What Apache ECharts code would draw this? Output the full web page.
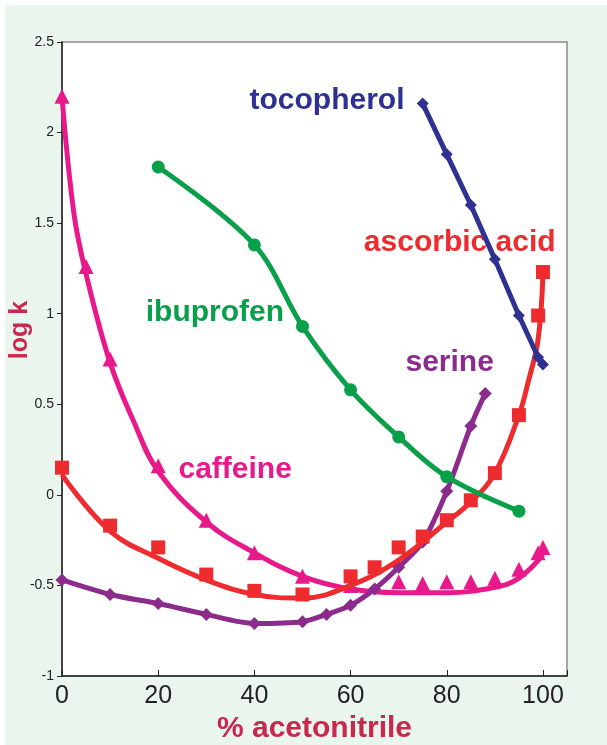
<!DOCTYPE html>
<html>
<head>
<meta charset="utf-8">
<script src="https://cdn.jsdelivr.net/npm/echarts@6/dist/echarts.min.js"></script>
<style>
  html, body { margin: 0; padding: 0; background: #ffffff; }
  #wrap { position: relative; width: 607px; height: 745px; background: #ffffff; overflow: hidden; }
  #chart { position: absolute; left: 5px; top: 5px; width: 602px; height: 740px; background: #eaf5ed; }
</style>
</head>
<body>
<div id="wrap"><div id="chart"></div></div>
<script>
// measured points [% acetonitrile, log k]
var caffeinePts = [[0, 2.2], [5, 1.26], [10, 0.75], [20, 0.16], [30, -0.14], [40, -0.32], [50, -0.45], [60, -0.5],
  [70, -0.48], [75, -0.49], [80, -0.48], [85, -0.48], [90, -0.46], [95, -0.41], [99, -0.32], [100, -0.29]];
// fitted curve as drawn
var caffeineFit = [[0, 2.2], [2.5, 1.55], [5, 1.22], [10, 0.73], [15, 0.4], [20, 0.13], [30, -0.15], [40, -0.32],
  [50, -0.45], [60, -0.52], [70, -0.54], [80, -0.54], [90, -0.51], [95, -0.46], [100, -0.33]];

var ascorbicPts = [[0, 0.15], [10, -0.17], [20, -0.29], [30, -0.44], [40, -0.53], [50, -0.55], [60, -0.45],
  [65, -0.4], [70, -0.29], [75, -0.23], [80, -0.14], [85, -0.03], [90, 0.12], [95, 0.44], [99, 0.99], [100, 1.23]];
var ascorbicFit = [[0, 0.11], [10, -0.2], [20, -0.35], [30, -0.47], [40, -0.55], [50, -0.57], [60, -0.5],
  [70, -0.36], [80, -0.15], [85, -0.04], [90, 0.12], [95, 0.44], [97, 0.63], [99, 0.86], [100, 1.22]];

var serinePts = [[0, -0.47], [10, -0.55], [20, -0.6], [30, -0.66], [40, -0.71], [50, -0.7], [55, -0.66], [60, -0.61],
  [65, -0.52], [70, -0.4], [75, -0.26], [80, 0.02], [85, 0.38], [88, 0.56]];

var ibuprofenPts = [[20, 1.81], [40, 1.38], [50, 0.93], [60, 0.58], [70, 0.32], [80, 0.1], [95, -0.09]];

var tocopherolPts = [[75, 2.16], [80, 1.88], [85, 1.6], [90, 1.3], [95, 0.99], [99, 0.76], [100, 0.72]];

var xTicks = [0, 20, 40, 60, 80, 100];

// label anchors in data space
var labels = [
  { name: 'tocopherol', at: [55.1, 2.175], color: '#2e3192' },
  { name: 'ascorbic acid', at: [82.7, 1.394], color: '#ee2b2f' },
  { name: 'ibuprofen', at: [31.8, 1.007], color: '#0a9f4a' },
  { name: 'serine', at: [80.6, 0.731], color: '#8b2c8d' },
  { name: 'caffeine', at: [36.0, 0.14], color: '#e8198b' }
];

var FONT = '"Liberation Sans", Arial, Helvetica, sans-serif';
var AXIS_NAME_COLOR = '#c8284e';

function labelPoint(i) {
  var l = labels[i];
  return {
    silent: true,
    symbol: 'circle',
    symbolSize: 1,
    itemStyle: { color: 'rgba(0,0,0,0)' },
    label: {
      show: true,
      position: 'inside',
      formatter: l.name,
      color: l.color,
      fontSize: 30,
      fontWeight: 'bold',
      fontFamily: FONT
    },
    data: [{ coord: l.at }]
  };
}

var chart = echarts.init(document.getElementById('chart'));
var option = {
  animation: false,
  textStyle: { fontFamily: FONT },
  grid: {
    left: 57, right: 40, top: 37, bottom: 69,
    outerBoundsMode: 'none', containLabel: false,
    show: true, backgroundColor: '#ffffff', borderColor: '#8a8a8a', borderWidth: 1.5
  },
  // y axis title, sits a little above the plot middle as in the original
  graphic: [{
    type: 'text', x: 15, y: 325, rotation: Math.PI / 2, silent: true,
    style: {
      text: 'log k', fill: AXIS_NAME_COLOR, font: 'bold 25px ' + FONT,
      align: 'center', verticalAlign: 'middle'
    }
  }],
  xAxis: {
    type: 'value', min: 0, max: 105, interval: 20,
    name: '% acetonitrile', nameLocation: 'middle', nameGap: 30,
    nameTextStyle: { fontSize: 30, fontWeight: 'bold', color: AXIS_NAME_COLOR, fontFamily: FONT },
    axisLine: { onZero: false, lineStyle: { color: '#222', width: 1.5 } },
    axisTick: { inside: true, length: 6, lineStyle: { color: '#222' } },
    axisLabel: {
      fontSize: 25, color: '#222', margin: 8,
      formatter: function (v) { return xTicks.indexOf(v) >= 0 ? String(v) : ''; }
    },
    splitLine: { show: false }
  },
  yAxis: {
    type: 'value', min: -1, max: 2.5, interval: 0.5,
    axisLine: { onZero: false, lineStyle: { color: '#222', width: 1.5 } },
    axisTick: { inside: false, length: 5, lineStyle: { color: '#222' } },
    axisLabel: { fontSize: 14, color: '#222', margin: 8 },
    splitLine: { show: false }
  },
  series: [
    {
      name: 'caffeine fit', type: 'line', data: caffeineFit, smooth: 0.4, showSymbol: false,
      lineStyle: { color: '#e8198b', width: 5 }, z: 2
    },
    {
      name: 'caffeine', type: 'scatter', data: caffeinePts, symbol: 'triangle', symbolSize: 15,
      itemStyle: { color: '#e8198b', opacity: 1 }, z: 3, markPoint: labelPoint(4)
    },
    {
      name: 'serine', type: 'line', data: serinePts, smooth: 0.3, symbol: 'diamond', symbolSize: 13,
      showAllSymbol: true,
      lineStyle: { color: '#8b2c8d', width: 5 }, itemStyle: { color: '#8b2c8d' }, z: 4,
      markPoint: labelPoint(3)
    },
    {
      name: 'ascorbic fit', type: 'line', data: ascorbicFit, smooth: 0.4, showSymbol: false,
      lineStyle: { color: '#ee2b2f', width: 5 }, z: 5
    },
    {
      name: 'ascorbic acid', type: 'scatter', data: ascorbicPts, symbol: 'rect', symbolSize: 14,
      itemStyle: { color: '#ee2b2f', opacity: 1 }, z: 6, markPoint: labelPoint(1)
    },
    {
      name: 'ibuprofen', type: 'line', data: ibuprofenPts, smooth: 0.35, symbol: 'circle', symbolSize: 13,
      showAllSymbol: true,
      lineStyle: { color: '#0a9f4a', width: 5 }, itemStyle: { color: '#0a9f4a' }, z: 7,
      markPoint: labelPoint(2)
    },
    {
      name: 'tocopherol', type: 'line', data: tocopherolPts, smooth: false, symbol: 'diamond', symbolSize: 12,
      showAllSymbol: true,
      lineStyle: { color: '#2e3192', width: 5 }, itemStyle: { color: '#2e3192' }, z: 8,
      markPoint: labelPoint(0)
    }
  ]
};
chart.setOption(option);
</script>
</body>
</html>
